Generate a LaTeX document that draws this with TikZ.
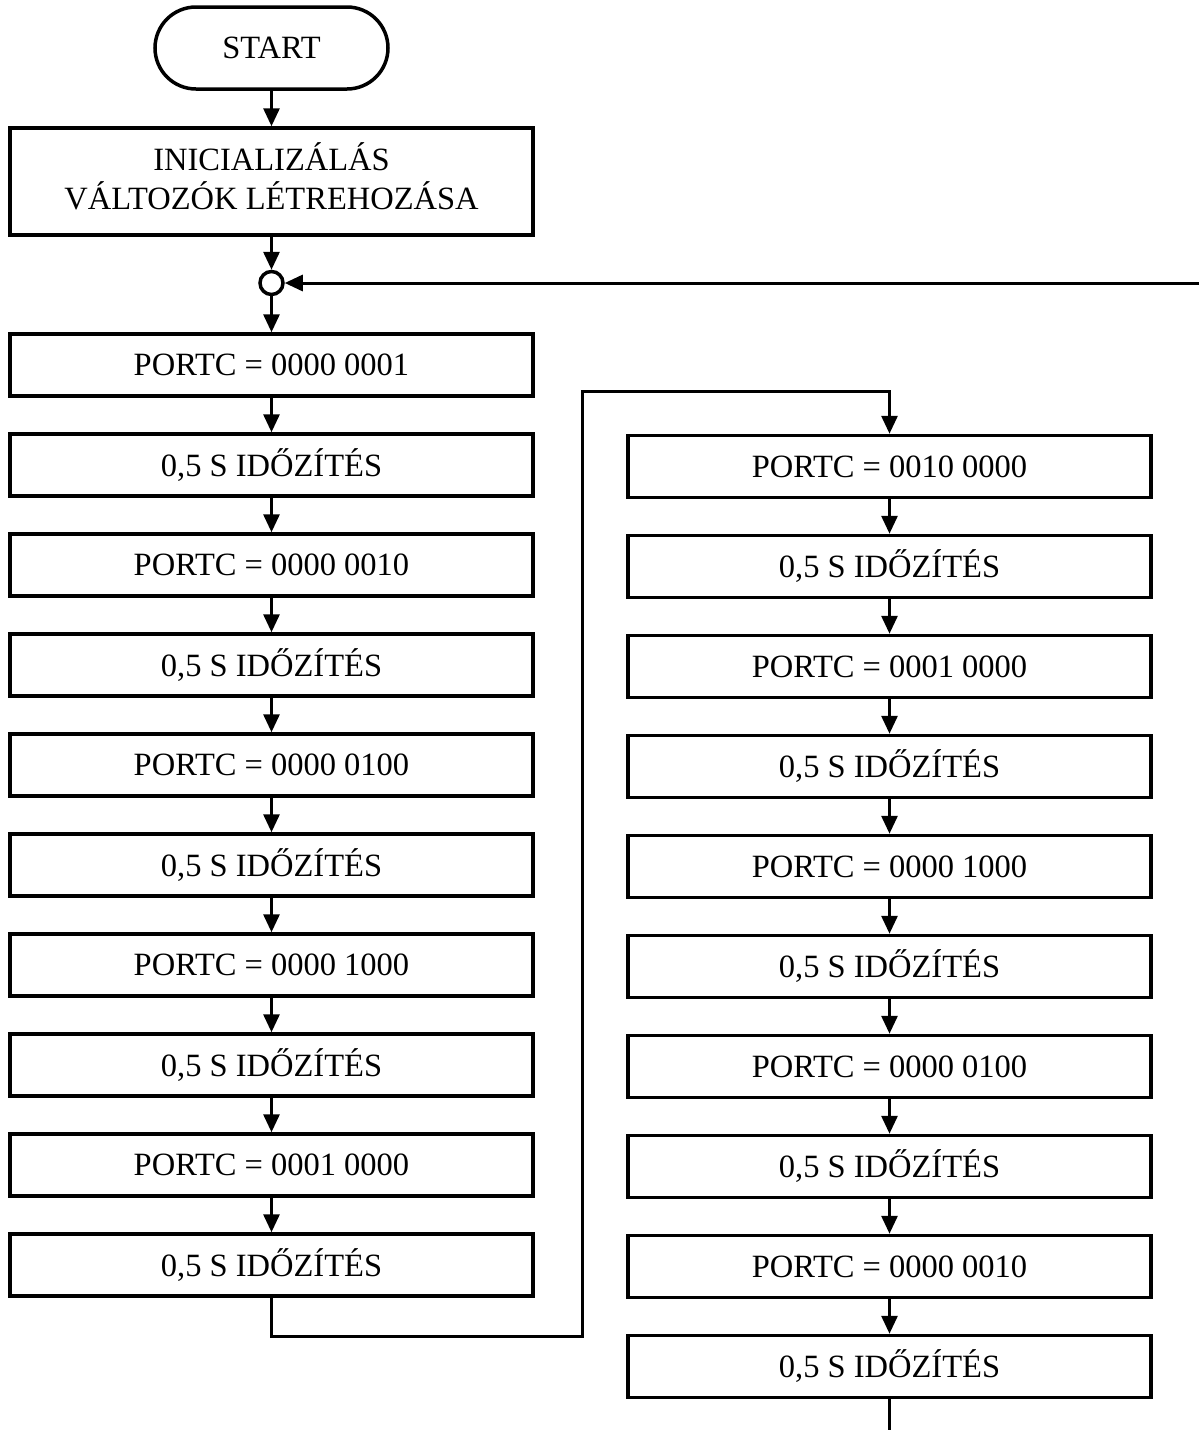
\documentclass[tikz,border=0pt]{standalone}
\usepackage{fontspec}
\setmainfont{Liberation Serif}
\usetikzlibrary{positioning, arrows.meta}

\begin{document}
\begin{tikzpicture}[
  x=1pt, y=-1pt,
  every node/.style={font=\fontsize{32.5}{38}\selectfont},
  box/.style={rectangle, draw, line width=3.5pt, minimum width=523pt, minimum height=62pt, inner sep=0pt, align=center},
  term/.style={rectangle, rounded corners=41pt, draw, line width=3.5pt, minimum width=233pt, minimum height=82pt},
  joint/.style={circle, draw, line width=3.5pt, minimum size=23pt, inner sep=0pt},
  flow/.style={line width=3pt, -{Triangle[length=18pt,width=16pt]}},
  wire/.style={line width=3pt}
]
  \useasboundingbox (0,0) rectangle (1199,1430);

  \node[term] (start) at (271.5,48) {START};
  \node[box, minimum height=107pt] (init) at (271.5,181.5)
    {\raisebox{4pt}{\begin{tabular}{@{}c@{}}INICIALIZÁLÁS\\VÁLTOZÓK LÉTREHOZÁSA\end{tabular}}};
  \node[joint] (join) at (271.5,283) {};

  % left column: light moves up
  \foreach \v [count=\i] in {0000 0001, 0000 0010, 0000 0100, 0000 1000, 0001 0000} {
    \node[box] (lp\i) at (271.5,165+200*\i) {PORTC = \v};
    \node[box] (ld\i) at (271.5,265+200*\i) {0,5 S IDŐZÍTÉS};
  }
  % right column: light moves back
  \foreach \v [count=\i] in {0010 0000, 0001 0000, 0000 1000, 0000 0100, 0000 0010} {
    \node[box] (rp\i) at (889.5,266.5+200*\i) {PORTC = \v};
    \node[box] (rd\i) at (889.5,366.5+200*\i) {0,5 S IDŐZÍTÉS};
  }

  \draw[flow] (start) -- (init);
  \draw[flow] (init) -- (join);
  \draw[flow] (join) -- (lp1);
  \foreach \i in {1,...,5} {
    \draw[flow] (lp\i) -- (ld\i);
    \draw[flow] (rp\i) -- (rd\i);
  }
  \foreach \i/\j in {1/2, 2/3, 3/4, 4/5} {
    \draw[flow] (ld\i) -- (lp\j);
    \draw[flow] (rd\i) -- (rp\j);
  }

  % crossover between the columns
  \coordinate (jog) at (582,1336);
  \coordinate (bridge) at (582,391);
  \draw[flow] (ld5) |- (jog) -- (bridge) -| (rp1);

  % loop back and tail
  \coordinate (back) at (1199,283);
  \draw[flow] (back) -- (join);
  \coordinate (tail) at (889.5,1430);
  \draw[wire] (rd5) -- (tail);
\end{tikzpicture}
\end{document}
